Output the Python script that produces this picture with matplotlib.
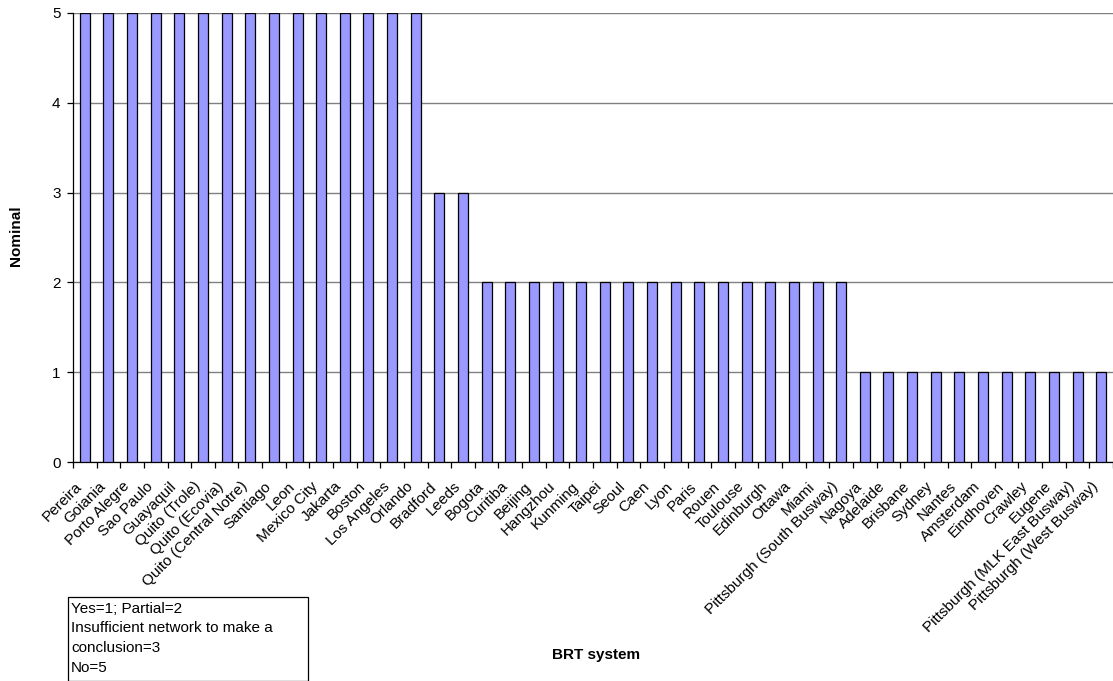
import matplotlib
matplotlib.use("Agg")
import matplotlib.pyplot as plt
from matplotlib.patches import Rectangle
from matplotlib.ticker import FixedLocator, NullFormatter
from matplotlib.transforms import ScaledTranslation

plt.rcParams['font.family'] = ['Liberation Sans', 'DejaVu Sans']

# BRT systems and their nominal score
systems = [
    'Pereira', 'Goiania', 'Porto Alegre', 'Sao Paulo', 'Guayaquil',
    'Quito (Trole)', 'Quito (Ecovia)', 'Quito (Central Notre)', 'Santiago',
    'Leon', 'Mexico City', 'Jakarta', 'Boston', 'Los Angeles', 'Orlando',
    'Bradford', 'Leeds',
    'Bogota', 'Curitiba', 'Beijing', 'Hangzhou', 'Kunming', 'Taipei', 'Seoul',
    'Caen', 'Lyon', 'Paris', 'Rouen', 'Toulouse', 'Edinburgh', 'Ottawa',
    'Miami', 'Pittsburgh (South Busway)',
    'Nagoya', 'Adelaide', 'Brisbane', 'Sydney', 'Nantes', 'Amsterdam',
    'Eindhoven', 'Crawley', 'Eugene', 'Pittsburgh (MLK East Busway)',
    'Pittsburgh (West Busway)',
]
nominal = [5] * 15 + [3] * 2 + [2] * 16 + [1] * 11
y_ticks = [0, 1, 2, 3, 4, 5]
note_lines = ['Yes=1; Partial=2', 'Insufficient network to make a',
              'conclusion=3', 'No=5']

W, H = 1113, 681
fig = plt.figure(figsize=(W / 100, H / 100), dpi=100)
ax = fig.add_axes([73 / W, (H - 462) / H, (1113 - 73) / W, (462 - 13) / H])

x = list(range(len(systems)))
ax.bar(x, nominal, width=0.42, color='#9999FF', edgecolor='black',
       linewidth=0.9, zorder=3)

ax.set_xlim(-0.5, len(systems) - 0.5)
ax.set_ylim(0, 5)
ax.set_yticks(y_ticks)
ax.yaxis.grid(True, color='#808080', linewidth=1.0, zorder=0)

# labels sit under the bars, tick marks go between categories
ax.set_xticks(x)
ax.set_xticklabels(systems, rotation=45, ha='right', va='center',
                   rotation_mode='anchor', fontsize=11)
ax.tick_params(axis='x', which='major', length=0, pad=16)
ax.xaxis.set_minor_locator(FixedLocator([i - 0.5 for i in range(len(systems) + 1)]))
ax.xaxis.set_minor_formatter(NullFormatter())
ax.tick_params(axis='x', which='minor', length=4, width=0.9, direction='out')
ax.tick_params(axis='y', length=4, width=0.9, direction='out', labelsize=11, pad=5)

# nudge the slanted labels a little to the left of each bar
shift = ScaledTranslation(-5 / 100, 0, fig.dpi_scale_trans)
for lbl in ax.get_xticklabels():
    lbl.set_transform(lbl.get_transform() + shift)

for side in ['top', 'right']:
    ax.spines[side].set_visible(False)
for side in ['left', 'bottom']:
    ax.spines[side].set_color('black')
    ax.spines[side].set_linewidth(0.9)

fig.text(16 / W, 1 - 236 / H, 'Nominal', rotation=90, fontsize=11,
         fontweight='bold', ha='center', va='center')
fig.text(596 / W, 1 - 655 / H, 'BRT system', fontsize=11,
         fontweight='bold', ha='center', va='center')

# scoring key in a boxed note
fig.add_artist(Rectangle((68 / W, 0), (308 - 68) / W, (H - 597) / H,
                         transform=fig.transFigure, facecolor='white',
                         edgecolor='black', linewidth=0.9))
fig.text(71 / W, 1 - 602 / H, '\n'.join(note_lines), fontsize=11,
         ha='left', va='top', linespacing=1.5)

fig.savefig('out.png', dpi=100)
